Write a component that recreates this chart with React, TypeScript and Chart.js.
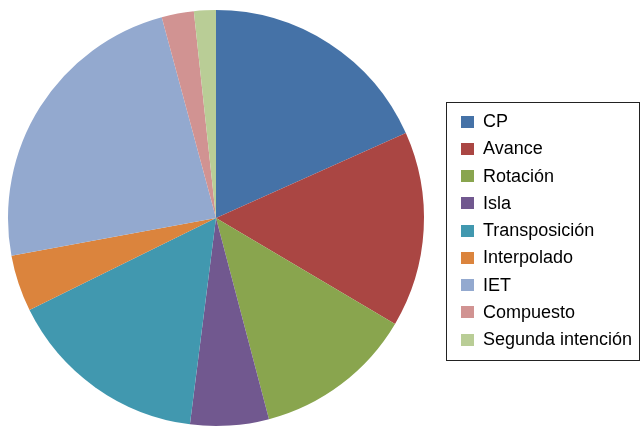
import React, { useEffect, useRef } from "react";
import { Chart, registerables } from "chart.js";

Chart.register(...registerables);

const categories = [
  "CP",
  "Avance",
  "Rotación",
  "Isla",
  "Transposición",
  "Interpolado",
  "IET",
  "Compuesto",
  "Segunda intención",
];
const values = [18.3, 15.2, 12.4, 6.1, 15.7, 4.4, 23.7, 2.5, 1.7];
const colors = [
  "#4572A7",
  "#AA4643",
  "#89A54E",
  "#71588F",
  "#4198AF",
  "#DB843D",
  "#93A9CF",
  "#D19392",
  "#B9CD96",
];

export default function App() {
  const ref = useRef<HTMLCanvasElement | null>(null);
  useEffect(() => {
    if (!ref.current) return;
    const chart = new Chart(ref.current, {
      type: "pie",
      data: {
        labels: categories,
        datasets: [
          {
            data: values,
            backgroundColor: colors,
            borderWidth: 0,
          },
        ],
      },
      options: {
        animation: false,
        responsive: false,
        maintainAspectRatio: false,
        layout: { padding: { left: 8, right: 217, top: 10, bottom: 1 } },
        plugins: {
          legend: { display: false },
          tooltip: { enabled: false },
        },
      },
    });
    return () => chart.destroy();
  }, []);

  return (
    <div
      style={{
        position: "fixed",
        left: 0,
        top: 0,
        width: 641,
        height: 427,
        background: "#fff",
        fontFamily: "'Liberation Sans', Arial, Helvetica, sans-serif",
      }}
    >
      <canvas
        ref={ref}
        width={641}
        height={427}
        style={{ position: "absolute", left: 0, top: 0, width: 641, height: 427 }}
      />
      <div
        style={{
          position: "absolute",
          left: 446,
          top: 102,
          width: 194,
          height: 259,
          border: "1px solid #222",
          boxSizing: "border-box",
          paddingTop: 5,
        }}
      >
        {categories.map((c, i) => (
          <div
            key={c}
            style={{
              display: "flex",
              alignItems: "center",
              height: 27.25,
              fontSize: 18,
              color: "#000",
              whiteSpace: "nowrap",
            }}
          >
            <span
              style={{
                display: "inline-block",
                flex: "none",
                width: 13,
                height: 12,
                marginLeft: 14,
                marginRight: 9,
                background: colors[i],
              }}
            />
            <span>{c}</span>
          </div>
        ))}
      </div>
    </div>
  );
}
